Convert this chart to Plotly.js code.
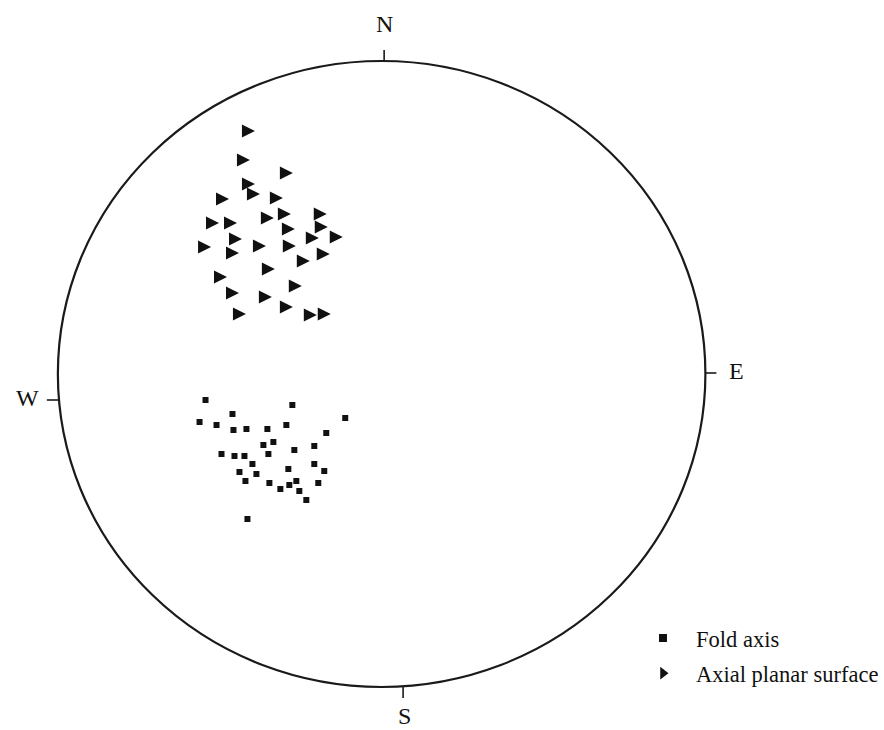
<!DOCTYPE html>
<html>
<head>
<meta charset="utf-8">
<script src="https://cdn.plot.ly/plotly-3.0.1.min.js"></script>
<style>html,body{margin:0;padding:0;background:#fff;}#chart{width:884px;height:730px;}</style>
</head>
<body>
<div id="chart"></div>
<script>
// Axial planar surface (triangle) positions on the net (net pixel coordinates)
const axialX = [249,244,287,249,254,277,223,285,268,321,213,231,289,322,236,313,337,205,260,290,233,324,304,269,221,296,233,266,287,240,311,325];
const axialY = [131,160,173,184,194,198,199,214,218,214,223,223,229,227,239,238,237,247,246,246,253,254,261,269,277,286,293,297,307,314,315,314];
// Fold axis (square) positions
const foldX = [206,293,346,233,200,217,234,247,268,287,327,274,264,295,315,222,235,245,269,253,315,289,325,240,257,246,270,297,319,290,281,300,307,248];
const foldY = [400,405,418,414,422,425,430,429,429,425,433,442,445,450,446,454,456,456,454,464,464,469,471,472,474,481,483,481,483,485,489,491,500,519];
// Series names
const seriesNames = ["Fold axis", "Axial planar surface"];
// Direction labels
const dirLabels = ["N", "E", "S", "W"];

// Net geometry (layout only)
const net = {x0: 58, x1: 707, y0: 61, y1: 687};
const tickDefs = [
  {x0: 385, y0: 50, x1: 385, y1: 61},
  {x0: 707, y0: 373, x1: 718, y1: 373},
  {x0: 404, y0: 687, x1: 404, y1: 698},
  {x0: 47, y0: 400, x1: 59, y1: 400}
];
const labelPos = [[385, 24], [738, 371], [405, 716], [28, 398]];

const ink = '#111';
const traces = [
  {x: foldX, y: foldY, mode: 'markers', type: 'scatter', showlegend: false,
   marker: {symbol: 'square', size: 6, color: ink}},
  {x: axialX, y: axialY, mode: 'markers', type: 'scatter', showlegend: false,
   marker: {symbol: 'arrow-down', angle: 270, standoff: 6.5, size: 13, color: ink}},
  {x: [null], y: [null], mode: 'markers', type: 'scatter', name: seriesNames[0], legendgroup: 'a',
   marker: {symbol: 'square', size: 8, color: ink}},
  {x: [null], y: [null], mode: 'markers', type: 'scatter', name: seriesNames[1], legendgroup: 'b',
   marker: {symbol: 'triangle-right', size: 11, color: ink}}
];

const shapes = [
  {type: 'circle', xref: 'x', yref: 'y', x0: net.x0, x1: net.x1, y0: net.y0, y1: net.y1,
   line: {color: '#1a1a1a', width: 2.2}}
].concat(tickDefs.map(t => ({type: 'line', xref: 'x', yref: 'y', x0: t.x0, y0: t.y0, x1: t.x1, y1: t.y1,
   line: {color: '#1a1a1a', width: 1.6}})));

const annotations = dirLabels.map((t, i) => ({
  x: labelPos[i][0], y: labelPos[i][1], xref: 'x', yref: 'y', text: t, showarrow: false,
  xanchor: 'center', yanchor: 'middle',
  font: {family: 'Liberation Serif, serif', size: 24, color: '#111'}
}));

const layout = {
  width: 884, height: 730,
  margin: {l: 0, r: 0, t: 0, b: 0},
  paper_bgcolor: '#fff', plot_bgcolor: '#fff',
  xaxis: {range: [0, 884], visible: false, fixedrange: true},
  yaxis: {range: [730, 0], visible: false, fixedrange: true},
  showlegend: true,
  legend: {x: 0.7145, y: 0.155, xanchor: 'left', yanchor: 'top', bgcolor: 'rgba(0,0,0,0)',
    font: {family: 'Liberation Serif, serif', size: 22.5, color: '#111'},
    itemwidth: 56, tracegroupgap: 3},
  shapes: shapes,
  annotations: annotations
};

Plotly.newPlot('chart', traces, layout, {displayModeBar: false, staticPlot: true});
</script>
</body>
</html>
